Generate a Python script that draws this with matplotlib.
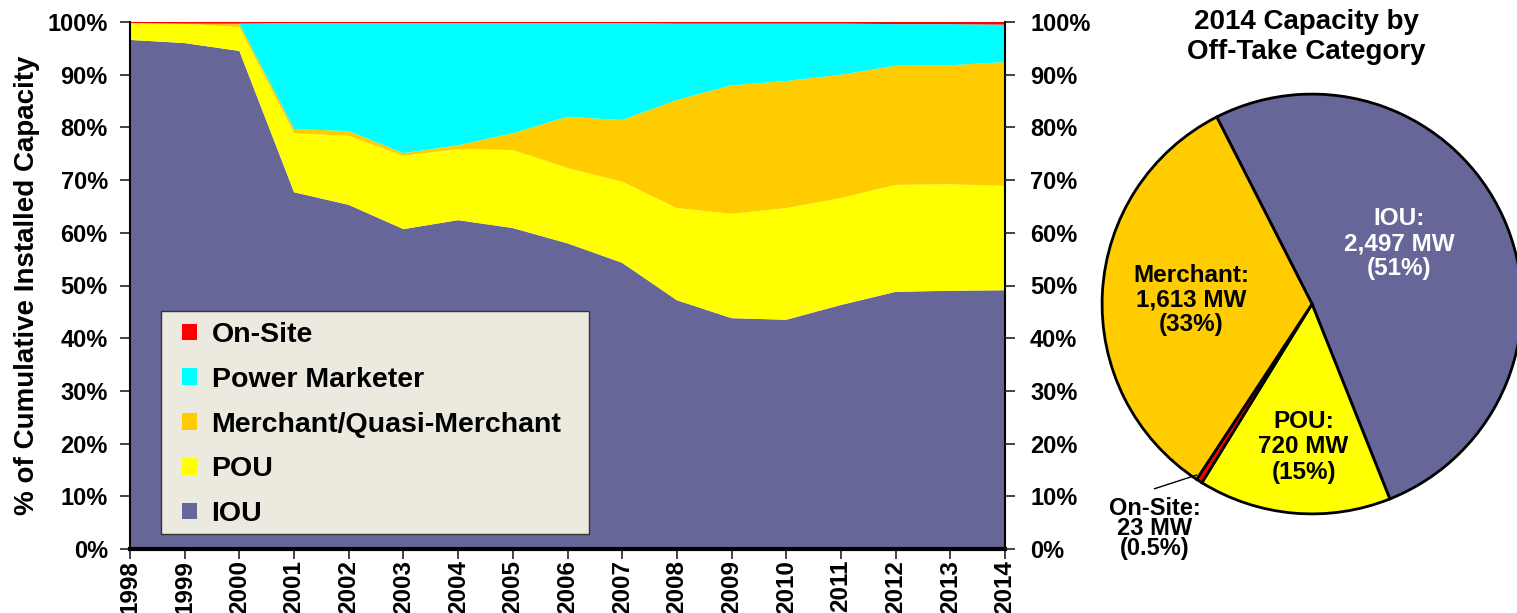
import matplotlib
matplotlib.use("Agg")
import matplotlib.pyplot as plt
from matplotlib.patches import Patch, Rectangle

plt.rcParams['font.family'] = ['Liberation Sans', 'DejaVu Sans']
plt.rcParams['font.weight'] = 'bold'

years = list(range(1998, 2015))
iou = [96.6, 96.0, 94.5, 67.7, 65.3, 60.7, 62.4, 60.9, 58.0, 54.3, 47.2, 43.8, 43.5, 46.3, 48.8, 49.0, 49.1]
pou = [3.2, 3.7, 4.5, 11.2, 13.1, 13.9, 13.5, 14.8, 14.3, 15.4, 17.5, 19.8, 21.2, 20.3, 20.3, 20.2, 19.8]
merchant = [0.0, 0.0, 0.6, 0.8, 0.9, 0.5, 0.7, 3.2, 9.7, 11.7, 20.5, 24.4, 24.1, 23.4, 22.6, 22.6, 23.5]
power_marketer = [0.0, 0.0, 0.1, 20.1, 20.5, 24.7, 23.2, 20.9, 17.8, 18.4, 14.5, 11.7, 10.9, 9.7, 7.9, 7.8, 7.1]
on_site = [0.2, 0.3, 0.3, 0.2, 0.2, 0.2, 0.2, 0.2, 0.2, 0.2, 0.3, 0.3, 0.3, 0.3, 0.4, 0.4, 0.5]

series_names = ["IOU", "POU", "Merchant/Quasi-Merchant", "Power Marketer", "On-Site"]
colors = ["#666699", "#FFFF00", "#FFCC00", "#00FFFF", "#FF0000"]

pie_names = ["IOU", "POU", "On-Site", "Merchant"]
pie_mw = [2497, 720, 23, 1613]
pie_colors = ["#666699", "#FFFF00", "#FF0000", "#FFCC00"]

W, H = 1517, 613
fig = plt.figure(figsize=(W / 100, H / 100), dpi=100)

# stacked area chart
x0, x1, y0, y1 = 130, 1005, 549, 22
ax = fig.add_axes([x0 / W, 1 - y0 / H, (x1 - x0) / W, (y0 - y1) / H])
ax.stackplot(years, iou, pou, merchant, power_marketer, on_site, colors=colors, linewidth=0)
ax.set_xlim(1998, 2014)
ax.set_ylim(0, 100)
ax.set_xticks(years)
ax.set_xticklabels([str(y) for y in years], rotation=90, fontsize=17.5, fontweight='bold')
yt = list(range(0, 101, 10))
ax.set_yticks(yt)
ax.set_yticklabels([f"{v}%" for v in yt], fontsize=17, fontweight='bold')
ax.tick_params(axis='both', direction='out', length=7, width=1.2, color='#222222')
ax.tick_params(axis='y', pad=9)
ax.tick_params(axis='x', pad=1)
ax.spines['top'].set_visible(False)
ax.spines['left'].set_linewidth(1.5)
ax.spines['right'].set_linewidth(1.5)
ax.spines['bottom'].set_linewidth(3)
ax.spines['bottom'].set_color('black')
ax.set_ylabel("% of Cumulative Installed Capacity", fontsize=20, fontweight='bold')
ax.yaxis.set_label_coords((40 - x0) / (x1 - x0), 0.5)

ax2 = ax.twinx()
ax2.set_ylim(0, 100)
ax2.set_yticks(yt)
ax2.set_yticklabels([f"{v}%" for v in yt], fontsize=17, fontweight='bold')
ax2.tick_params(axis='y', direction='out', length=7, width=1.2, color='#222222', pad=11)
for s in ax2.spines.values():
    s.set_visible(False)

# legend box drawn separately so entries can sit where they are in the original
def px(xp, yp):
    return (xp - x0) / (x1 - x0), (y0 - yp) / (y0 - y1)

bx, by = px(161, 534)
bw = (589 - 161) / (x1 - x0)
bh = (534 - 311) / (y0 - y1)
ax.add_patch(Rectangle((bx, by), bw, bh, transform=ax.transAxes, facecolor='#ECE9DF',
                       edgecolor='#333333', linewidth=1, zorder=4))
handles = [Patch(facecolor=c, edgecolor='none') for c in colors][::-1]
leg = ax.legend(handles, series_names[::-1], loc='upper left',
                bbox_to_anchor=px(182, 322),
                prop={'size': 20.5, 'weight': 'bold'},
                handlelength=0.52, handleheight=0.52, handletextpad=0.52,
                labelspacing=0.66, borderpad=0, borderaxespad=0, frameon=False)
leg.set_zorder(5)

# pie chart
r = 212
cx, cy = 1312, 304
pax = fig.add_axes([(cx - r) / W, 1 - (cy + r) / H, 2 * r / W, 2 * r / H])
pax.pie(pie_mw, colors=pie_colors, startangle=117, counterclock=False,
        wedgeprops=dict(edgecolor='black', linewidth=2))
pax.set_aspect('auto')
pax.set_xlim(-1.01, 1.01)
pax.set_ylim(-1.01, 1.01)

total = sum(pie_mw)
def lab(name, mw):
    pct = 100 * mw / total
    p = f"({pct:.1f}%)" if pct < 1 else f"({pct:.0f}%)"
    return f"{name}:\n{mw:,} MW\n{p}"

pax.text(0.415, 0.288, lab("IOU", pie_mw[0]), color='white', ha='center', va='center',
         fontsize=17.5, fontweight='bold', linespacing=1.12)
pax.text(-0.575, 0.02, lab("Merchant", pie_mw[3]), color='black', ha='center', va='center',
         fontsize=17.5, fontweight='bold', linespacing=1.08)
pax.text(-0.04, -0.68, lab("POU", pie_mw[1]), color='black', ha='center', va='center',
         fontsize=17.5, fontweight='bold', linespacing=1.15)
pax.text(-0.75, -1.07, lab("On-Site", pie_mw[2]), color='black', ha='center', va='center',
         fontsize=17, fontweight='bold', linespacing=0.85, clip_on=False)
pax.plot([-0.75, -0.55], [-0.88, -0.815], color='black', lw=1, clip_on=False)

fig.text(1306 / W, 1 - 37 / H, "2014 Capacity by\nOff-Take Category", ha='center', va='center',
         fontsize=20, fontweight='bold', linespacing=1.2)

fig.savefig("out.png", dpi=100)
